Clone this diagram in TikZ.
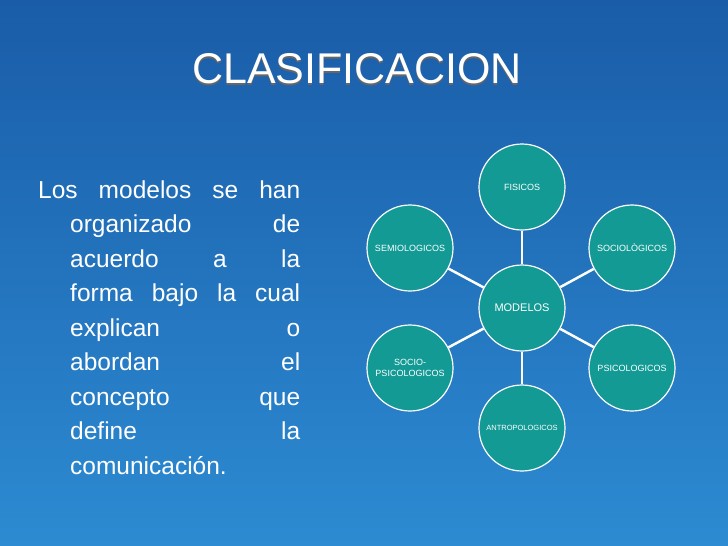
\documentclass[tikz,border=0pt]{standalone}
\usepackage{fontspec}
\setmainfont{Liberation Sans}
\definecolor{bubfill}{HTML}{139A94}
\definecolor{bgtop}{HTML}{1A5CA8}
\definecolor{bgbot}{HTML}{2C8BD2}
\begin{document}
\begin{tikzpicture}[x=1pt,y=-1pt,
  bub/.style={circle,draw=white,line width=1.2pt,fill=bubfill,minimum size=86pt,inner sep=0pt,text=white,font=\fontsize{9}{11}\selectfont,align=center},
  link/.style={draw=white,line width=2.5pt},
  txt/.style={anchor=base west,inner sep=0pt,text=white,font=\fontsize{24.5}{28}\selectfont}]
\shade[top color=bgtop,bottom color=bgbot] (0,0) rectangle (728,546);
\useasboundingbox (0,0) rectangle (728,546);
\node (title)[text=white,font=\fontsize{43}{46}\selectfont,inner sep=0pt] at (357,70) {\llap{\textcolor{black!60}{\raisebox{-2pt}{\hspace{2pt}\rlap{CLASIFICACION}}}}CLASIFICACION};
\node (l1)[txt] at (38,198) {\makebox[262pt][s]{Los modelos se han}};
\node (l2)[txt] at (70,232) {\makebox[230pt][s]{organizado de}};
\node (l3)[txt] at (70,267) {\makebox[230pt][s]{acuerdo a la}};
\node (l4)[txt] at (70,301) {\makebox[230pt][s]{forma bajo la cual}};
\node (l5)[txt] at (70,336) {\makebox[230pt][s]{explican o}};
\node (l6)[txt] at (70,370) {\makebox[230pt][s]{abordan el}};
\node (l7)[txt] at (70,405) {\makebox[230pt][s]{concepto que}};
\node (l8)[txt] at (70,439) {\makebox[230pt][s]{define la}};
\node (l9)[txt] at (70,474) {comunicación.};
\node (m) [bub,font=\fontsize{11}{13}\selectfont] at (522,308) {MODELOS};
\node (f) [bub] at (522,187) {FISICOS};
\node (so) [bub] at (632,248) {SOCIOLÒGICOS};
\node (ps) [bub] at (632,368) {PSICOLOGICOS};
\node (an) [bub,font=\fontsize{7.5}{9}\selectfont] at (522,428) {ANTROPOLOGICOS};
\node (sp) [bub] at (410,368) {SOCIO-\\PSICOLOGICOS};
\node (se) [bub] at (410,248) {SEMIOLOGICOS};
\foreach \n in {f,so,ps,an,sp,se} \draw[link] (m) -- (\n);
\end{tikzpicture}
\end{document}
